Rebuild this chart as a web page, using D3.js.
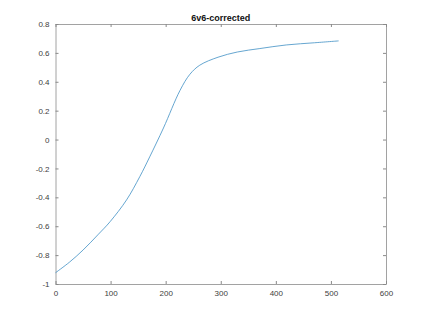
<!DOCTYPE html>
<html>
<head>
<meta charset="utf-8">
<script src="https://cdn.jsdelivr.net/npm/d3@7"></script>
<style>
    body { margin: 0; background: #fff; }
    #chart { width: 427px; height: 320px; }
    text { font-family: "Liberation Sans", Arial, sans-serif; fill: #404040; }
    .domain, .tick line { stroke: #8a8a8a; }
</style>
</head>
<body>
<div id="chart"></div>
<script>
//Datos
const xValues = [0, 25, 50, 78, 99, 129, 153, 171, 196, 226, 244, 262, 295, 330, 371, 419, 470, 514];
const yValues = [-0.922, -0.85, -0.765, -0.655, -0.569, -0.418, -0.257, -0.12, 0.08, 0.34, 0.452, 0.515, 0.57, 0.606, 0.63, 0.655, 0.67, 0.683];
const xTicks = [0, 100, 200, 300, 400, 500, 600];
const yTicks = [-1, -0.8, -0.6, -0.4, -0.2, 0, 0.2, 0.4, 0.6, 0.8];
const title = '6v6-corrected';

let margin = {top: 24, right: 41, bottom: 36, left: 55.5},
    width = 427 - margin.left - margin.right,
    height = 320 - margin.top - margin.bottom;

let svg = d3.select('#chart')
    .append('svg')
      .attr('width', 427)
      .attr('height', 320)
    .append('g')
      .attr('transform', 'translate(' + margin.left + ',' + margin.top + ')');

//Escalas
let x = d3.scaleLinear().domain([0, 600]).range([0, width]);
let y = d3.scaleLinear().domain([-1, 0.8]).range([height, 0]);

//Guion normal, como en el original
let fmt = function(d) { return String(+d.toFixed(1)); };

//Ejes (ticks hacia dentro, caja cerrada)
svg.append('g')
    .attr('transform', 'translate(0,' + height + ')')
    .call(d3.axisBottom(x).tickValues(xTicks).tickSize(-3).tickPadding(6).tickFormat(fmt).tickSizeOuter(0))
    .call(function(g) { g.selectAll('text').attr('font-size', 8); });

svg.append('g')
    .call(d3.axisTop(x).tickValues(xTicks).tickSize(-3).tickFormat('').tickSizeOuter(0));

svg.append('g')
    .call(d3.axisLeft(y).tickValues(yTicks).tickSize(-3).tickPadding(6).tickFormat(fmt).tickSizeOuter(0))
    .call(function(g) { g.selectAll('text').attr('font-size', 8); });

svg.append('g')
    .attr('transform', 'translate(' + width + ',0)')
    .call(d3.axisRight(y).tickValues(yTicks).tickSize(-3).tickFormat('').tickSizeOuter(0));

svg.selectAll('.domain').attr('stroke-width', 0.8);

//Línea
let line = d3.line()
    .x(function(d) { return x(d[0]); })
    .y(function(d) { return y(d[1]); })
    .curve(d3.curveCatmullRom);

svg.append('path')
    .datum(d3.zip(xValues, yValues))
    .attr('fill', 'none')
    .attr('stroke', '#3f8fc4')
    .attr('stroke-width', 0.8)
    .attr('d', line);

//Título
svg.append('text')
    .attr('x', width / 2)
    .attr('y', -3)
    .attr('text-anchor', 'middle')
    .attr('font-size', 9)
    .attr('font-weight', 'bold')
    .style('fill', '#111')
    .text(title);
</script>
</body>
</html>
